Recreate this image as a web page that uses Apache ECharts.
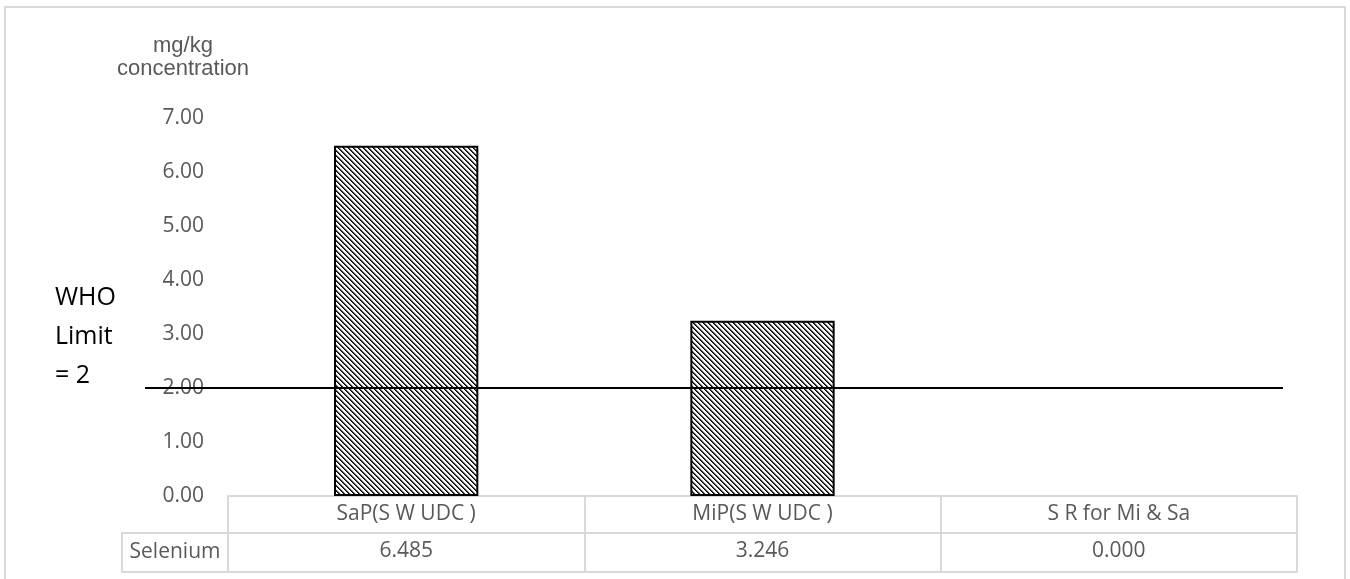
<!DOCTYPE html>
<html>
<head>
<meta charset="utf-8">
<script src="https://cdn.jsdelivr.net/npm/echarts@6/dist/echarts.min.js"></script>
<style>
html,body{margin:0;padding:0;background:#fff;}
#chart{width:1350px;height:579px;}
</style>
</head>
<body>
<div id="chart"></div>
<script>
// ---- data ----
const categories = ['SaP(S W UDC )', 'MiP(S W UDC )', 'S R for Mi & Sa'];
const seleniumValues = [6.485, 3.246, 0.000];
const seriesName = 'Selenium';
const whoLimit = 2;
const yMin = 0, yMax = 7, yStep = 1;

// ---- hatch pattern ----
function makeHatch() {
  const c = document.createElement('canvas');
  const n = 5;
  c.width = n; c.height = n;
  const ctx = c.getContext('2d');
  const img = ctx.createImageData(n, n);
  for (let y = 0; y < n; y++) {
    for (let x = 0; x < n; x++) {
      const k = ((x - y) % n + n) % n;
      let v = 255;
      if (k === 0) v = 0;
      else if (k === 1) v = 70;
      else if (k === 2) v = 210;
      const i = (y * n + x) * 4;
      img.data[i] = v; img.data[i+1] = v; img.data[i+2] = v; img.data[i+3] = 255;
    }
  }
  ctx.putImageData(img, 0, 0);
  return c;
}
const hatch = makeHatch();

const chart = echarts.init(document.getElementById('chart'), null, {renderer: 'canvas'});
const gridLine = '#d9d9d9';
const txt = '#595959';
const font = 'Open Sans';

const option = {
  animation: false,
  backgroundColor: '#fff',
  grid: {left: 228, right: 53, top: 118, bottom: 83, containLabel: false},
  xAxis: [
    {
      type: 'category', data: categories, position: 'bottom',
      axisLine: {show: true, lineStyle: {color: gridLine, width: 2}},
      axisTick: {show: true, length: 76, lineStyle: {color: gridLine, width: 2}},
      axisLabel: {show: true, margin: 8, fontSize: 21, fontFamily: font, color: txt, interval: 0},
      splitLine: {show: false}
    },
    {
      type: 'category', data: categories, position: 'bottom', offset: 37,
      axisLine: {show: true, lineStyle: {color: gridLine, width: 2}},
      axisTick: {show: false},
      axisLabel: {show: true, margin: 8, fontSize: 21, fontFamily: font, color: txt, interval: 0,
        formatter: (v, i) => seleniumValues[i].toFixed(3)},
      splitLine: {show: false}
    },
    {
      type: 'category', data: categories, position: 'bottom', offset: 76,
      axisLine: {show: true, lineStyle: {color: gridLine, width: 2}},
      axisTick: {show: false},
      axisLabel: {show: false},
      splitLine: {show: false}
    }
  ],
  yAxis: {
    type: 'value', min: yMin, max: yMax, interval: yStep,
    axisLine: {show: false}, axisTick: {show: false}, splitLine: {show: false},
    axisLabel: {margin: 24, fontSize: 21, fontFamily: font, color: txt,
      formatter: v => v.toFixed(2)}
  },
  series: [{
    name: seriesName,
    type: 'bar',
    xAxisIndex: 0,
    barWidth: '40.5%',
    data: seleniumValues.map(v => ({
      value: v,
      itemStyle: v === 0 ? {borderWidth: 0, color: 'transparent'} : undefined
    })),
    itemStyle: {color: {image: hatch, repeat: 'repeat'}, borderColor: '#000', borderWidth: 2},
    markLine: {
      silent: true,
      symbol: ['none', 'none'],
      label: {show: false},
      lineStyle: {color: '#000', width: 2, type: 'solid'},
      emphasis: {disabled: true},
      data: [[{x: 145, yAxis: whoLimit}, {x: 1283, yAxis: whoLimit}]]
    }
  }],
  graphic: [
    {type: 'rect', silent: true, shape: {x: 5, y: 7, width: 1340, height: 620},
      style: {fill: 'none', stroke: gridLine, lineWidth: 2}},
    {type: 'text', silent: true, x: 183, y: 57,
      style: {text: 'mg/kg\nconcentration', font: '22px "Liberation Sans", Arial, sans-serif',
        fill: txt, textAlign: 'center', textVerticalAlign: 'middle', lineHeight: 23}},
    {type: 'text', silent: true, x: 55, y: 337,
      style: {text: 'WHO\nLimit\n= ' + whoLimit, font: '25px "Open Sans", sans-serif',
        fill: '#000', textAlign: 'left', textVerticalAlign: 'middle', lineHeight: 39}},
    {type: 'rect', silent: true, shape: {x: 122, y: 533, width: 106, height: 39},
      style: {fill: 'none', stroke: gridLine, lineWidth: 2}},
    {type: 'text', silent: true, x: 175, y: 552,
      style: {text: seriesName, font: '21px "Open Sans", sans-serif', fill: txt,
        textAlign: 'center', textVerticalAlign: 'middle'}}
  ]
};
chart.setOption(option);
</script>
</body>
</html>
